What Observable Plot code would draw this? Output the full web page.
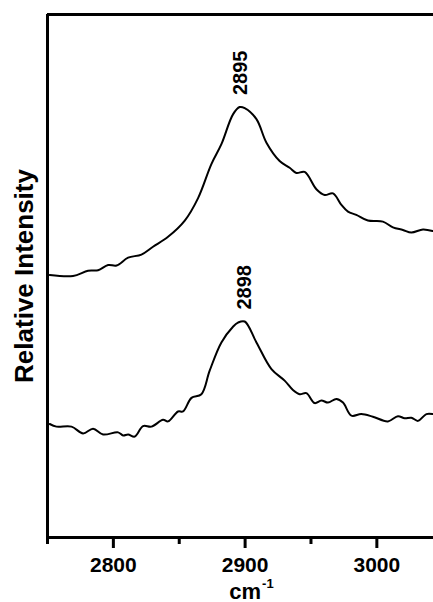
<!DOCTYPE html>
<html>
<head>
<meta charset="utf-8">
<script src="https://cdn.jsdelivr.net/npm/d3@7"></script>
<script src="https://cdn.jsdelivr.net/npm/@observablehq/plot@0.6"></script>
<style>
  html, body { margin: 0; padding: 0; background: #fff; }
  #chart svg { display: block; font-family: "Liberation Sans", Arial, sans-serif; }
</style>
</head>
<body>
<div id="chart"></div>
<script>
// Upper spectrum (peak labelled 2895)
const upperX = [2751.7, 2769.4, 2780.8, 2788.4, 2796.0, 2802.4, 2811.2, 2821.3, 2830.1, 2841.5, 2854.2, 2864.3, 2874.4, 2882.0, 2890.8, 2895.9, 2899.7, 2908.6, 2916.2, 2926.2, 2933.8, 2938.9, 2945.2, 2954.1, 2960.4, 2966.7, 2973.1, 2978.1, 2984.4, 2993.2, 3004.6, 3012.2, 3019.8, 3026.2, 3035.0, 3042.3];
const upperY = [50.2, 50.0, 51.0, 51.1, 52.1, 52.0, 53.5, 54.1, 55.6, 57.5, 60.6, 64.9, 71.4, 75.2, 80.9, 82.3, 82.1, 80.0, 75.5, 72.0, 70.7, 69.7, 69.9, 66.6, 65.5, 65.8, 63.6, 62.3, 61.7, 60.6, 60.4, 59.3, 58.8, 58.3, 58.9, 58.6];

// Lower spectrum (peak labelled 2898)
const lowerX = [2751.7, 2756.8, 2768.2, 2777.0, 2784.6, 2792.2, 2803.6, 2807.4, 2811.2, 2816.2, 2822.5, 2828.9, 2837.7, 2841.5, 2849.1, 2852.9, 2859.3, 2866.8, 2873.1, 2882.0, 2890.8, 2894.6, 2899.7, 2908.6, 2920.0, 2930.0, 2936.3, 2941.4, 2946.5, 2952.8, 2957.9, 2962.9, 2969.3, 2974.3, 2980.7, 2988.2, 2997.0, 3008.4, 3016.0, 3021.1, 3026.2, 3031.2, 3037.6, 3042.3];
const lowerY = [21.7, 21.2, 21.2, 19.9, 20.8, 19.7, 20.1, 19.5, 19.7, 19.3, 21.3, 21.2, 22.5, 22.2, 24.1, 24.1, 26.7, 27.4, 31.9, 37.3, 40.3, 41.1, 41.3, 37.3, 32.2, 30.0, 28.2, 27.4, 27.6, 25.7, 26.2, 25.8, 26.5, 25.8, 23.3, 23.6, 23.1, 22.2, 23.2, 22.8, 22.9, 22.3, 23.6, 23.6];

const peakLabels = ["2895", "2898"];
const majorTicks = [2800, 2900, 3000];
const minorTicks = [2750, 2850, 2950];
const xLabel = "cm";
const xLabelSup = "-1";
const yLabel = "Relative Intensity";

const upper = upperX.map((x, i) => ({x, y: upperY[i]}));
const lower = lowerX.map((x, i) => ({x, y: lowerY[i]}));
const peaks = [
  {label: peakLabels[0], x: +peakLabels[0], y: d3.max(upperY)},
  {label: peakLabels[1], x: +peakLabels[1], y: d3.max(lowerY)}
];

const font = '"Liberation Sans", Arial, sans-serif';

const chart = Plot.plot({
  width: 433,
  height: 602,
  marginTop: 14,
  marginBottom: 65,
  marginLeft: 47,
  marginRight: 0,
  style: {fontFamily: font, background: "#fff", color: "#000", overflow: "visible"},
  x: {domain: [2750, 3043]},
  y: {domain: [0, 100], axis: null},
  marks: [
    Plot.axisX({ticks: minorTicks, tickSize: 7, strokeWidth: 3, tickFormat: () => "", label: null}),
    Plot.axisX({ticks: majorTicks, tickSize: 11, strokeWidth: 3, tickPadding: 9, tickFormat: d => String(d), fontSize: 21, fontWeight: "bold", label: null}),
    Plot.ruleY([0], {strokeWidth: 3}),
    Plot.ruleY([100], {strokeWidth: 3}),
    Plot.ruleX([2750], {strokeWidth: 3}),
    Plot.line(upper, {x: "x", y: "y", stroke: "#000", strokeWidth: 2, curve: "catmull-rom"}),
    Plot.line(lower, {x: "x", y: "y", stroke: "#000", strokeWidth: 2, curve: "catmull-rom"}),
    Plot.text(peaks, {x: "x", y: "y", text: "label", rotate: -90, textAnchor: "start", lineAnchor: "middle", dy: -12, dx: 2, fontSize: 20, fontWeight: "bold", fill: "#000"}),
    Plot.text([yLabel], {frameAnchor: "left", rotate: -90, dx: -23, fontSize: 26, fontWeight: "bold", fill: "#000", textAnchor: "middle", lineAnchor: "middle"}),
    Plot.text([xLabel], {x: [2900], frameAnchor: "bottom", dy: 54, dx: 16, textAnchor: "end", lineAnchor: "middle", fontSize: 22, fontWeight: "bold", fill: "#000"}),
    Plot.text([xLabelSup], {x: [2900], frameAnchor: "bottom", dy: 46, dx: 17, textAnchor: "start", lineAnchor: "middle", fontSize: 13, fontWeight: "bold", fill: "#000"})
  ]
});

document.getElementById("chart").appendChild(chart);
</script>
</body>
</html>
